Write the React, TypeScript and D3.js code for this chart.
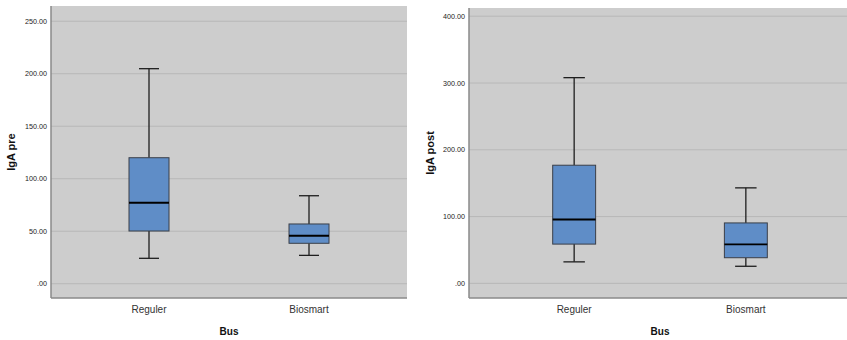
import React from 'react';
import * as d3 from 'd3';

const categories = ["Reguler", "Biosmart"];

// IgA pre
const preMin = [24.2, 27.0];
const preQ1 = [50.2, 38.5];
const preMedian = [77.1, 45.7];
const preQ3 = [120.0, 56.9];
const preMax = [204.8, 83.8];
const preTicks = [0, 50, 100, 150, 200, 250];

// IgA post
const postMin = [32.2, 25.6];
const postQ1 = [58.8, 38.4];
const postMedian = [95.6, 58.3];
const postQ3 = [176.9, 90.5];
const postMax = [308.0, 143.0];
const postTicks = [0, 100, 200, 300, 400];

const FONT = "'Liberation Sans', Arial, sans-serif";
const fmt = (v: number) => d3.format(".2f")(v).replace(/^0\./, ".");

type PanelProps = {
  left: number;
  right: number;
  top: number;
  bottom: number;
  domain: [number, number];
  ticks: number[];
  title: string;
  titleX: number;
  mins: number[];
  q1s: number[];
  medians: number[];
  q3s: number[];
  maxs: number[];
};

const Panel = ({ left, right, top, bottom, domain, ticks, title, titleX, mins, q1s, medians, q3s, maxs }: PanelProps) => {
  const x = d3.scalePoint<string>().domain(categories).range([left, right]).padding(0.6125);
  const y = d3.scaleLinear().domain(domain).range([bottom, top]);
  const boxW = x.step() * 0.25;
  const capW = boxW / 2;

  return (
    <g>
      <rect x={left} y={top} width={right - left} height={bottom - top} fill="#cdcdcd" />
      {ticks.map(t => (
        <g key={t}>
          <line x1={left} x2={right} y1={y(t)} y2={y(t)} stroke="#b8b8b8" strokeWidth={1} />
          <text x={left - 4} y={y(t)} dy="0.35em" textAnchor="end" fontSize={7.2} fill="#222" fontFamily={FONT}>
            {fmt(t)}
          </text>
        </g>
      ))}
      {categories.map((c, i) => {
        const cx = x(c) as number;
        return (
          <g key={c}>
            <line x1={cx} x2={cx} y1={y(maxs[i])} y2={y(q3s[i])} stroke="#1e1e1e" strokeWidth={1.3} />
            <line x1={cx} x2={cx} y1={y(q1s[i])} y2={y(mins[i])} stroke="#1e1e1e" strokeWidth={1.3} />
            <line x1={cx - capW / 2} x2={cx + capW / 2} y1={y(maxs[i])} y2={y(maxs[i])} stroke="#1e1e1e" strokeWidth={1.3} />
            <line x1={cx - capW / 2} x2={cx + capW / 2} y1={y(mins[i])} y2={y(mins[i])} stroke="#1e1e1e" strokeWidth={1.3} />
            <rect
              x={cx - boxW / 2}
              y={y(q3s[i])}
              width={boxW}
              height={y(q1s[i]) - y(q3s[i])}
              fill="#5f8dc7"
              stroke="#3a3f48"
              strokeWidth={1}
            />
            <line x1={cx - boxW / 2} x2={cx + boxW / 2} y1={y(medians[i])} y2={y(medians[i])} stroke="#000" strokeWidth={1.8} />
            <text x={cx} y={309} dy="0.35em" textAnchor="middle" fontSize={10} fill="#333" fontFamily={FONT}>
              {c}
            </text>
          </g>
        );
      })}
      <line x1={left} x2={left} y1={top} y2={bottom} stroke="#8a8a8a" strokeWidth={1.5} />
      <line x1={left} x2={right} y1={bottom} y2={bottom} stroke="#8a8a8a" strokeWidth={1.5} />
      <text x={(left + right) / 2} y={331} dy="0.35em" textAnchor="middle" fontSize={10} fontWeight="bold" fill="#111" fontFamily={FONT}>
        Bus
      </text>
      <text
        transform={`translate(${titleX},${(top + bottom) / 2}) rotate(-90)`}
        dy="0.35em"
        textAnchor="middle"
        fontSize={11}
        fontWeight="bold"
        fill="#111"
        fontFamily={FONT}
      >
        {title}
      </text>
    </g>
  );
};

export default function App() {
  return (
    <svg width={847} height={340} style={{ position: 'absolute', left: 0, top: 0, background: '#fff' }}>
      <Panel
        left={51}
        right={407}
        top={6}
        bottom={298}
        domain={[-13.6, 264.5]}
        ticks={preTicks}
        title="IgA pre"
        titleX={11}
        mins={preMin}
        q1s={preQ1}
        medians={preMedian}
        q3s={preQ3}
        maxs={preMax}
      />
      <Panel
        left={469}
        right={851}
        top={8}
        bottom={298}
        domain={[-21.9, 412.3]}
        ticks={postTicks}
        title="IgA post"
        titleX={430}
        mins={postMin}
        q1s={postQ1}
        medians={postMedian}
        q3s={postQ3}
        maxs={postMax}
      />
    </svg>
  );
}
